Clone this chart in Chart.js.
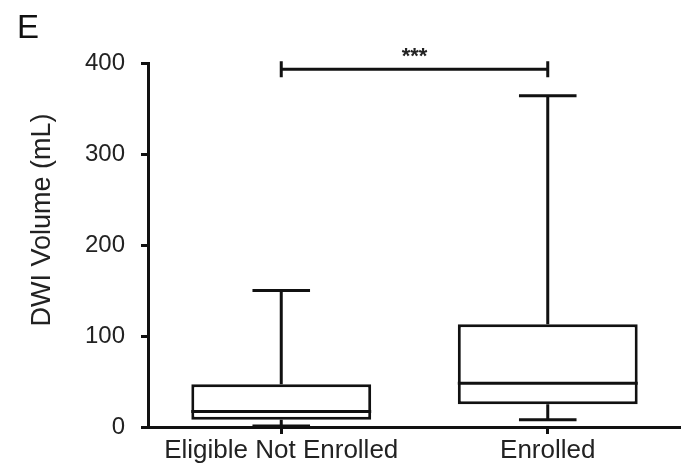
<!DOCTYPE html>
<html>
<head>
<meta charset="utf-8">
<script src="https://cdn.jsdelivr.net/npm/chart.js@4.4.1/dist/chart.umd.min.js"></script>
<style>
  html, body { margin: 0; padding: 0; background: #fff; }
  #box-chart { display: block; }
</style>
</head>
<body>
<canvas id="box-chart" width="681" height="466"></canvas>
<script>
const boxChart = document.getElementById("box-chart");

// groups on the x axis
const groupLabels = ["Eligible Not Enrolled", "Enrolled"];

// box plot values, DWI volume in mL
const whiskerLow = [1, 8];
const quartile1 = [8, 25];
const medians = [17, 48];
const quartile3 = [47, 113];
const whiskerHigh = [150, 364];

// y axis ticks
const yTicks = [0, 100, 200, 300, 400];

// significance bracket between the two groups
const sigPair = [0, 1];
const sigLevel = 393;
const sigLabel = "***";

const panelLetter = "E";
const yTitle = "DWI Volume (mL)";

const fontFamily = "'Liberation Sans', Arial, Helvetica, sans-serif";
const ink = "#111";
const lineW = 3;

// draws medians, whiskers, the bracket and the extra texts
const boxPlotExtras = {
    id: "boxPlotExtras",
    afterDatasetsDraw(chart) {
        const ctx = chart.ctx;
        const x = chart.scales.x;
        const y = chart.scales.y;
        const meta = chart.getDatasetMeta(0);

        ctx.save();
        ctx.strokeStyle = ink;
        ctx.lineWidth = lineW;
        meta.data.forEach((bar, i) => {
            const half = bar.width / 2;
            const cap = bar.width * 0.16;
            const yMed = y.getPixelForValue(medians[i]);
            const yQ1 = y.getPixelForValue(quartile1[i]);
            const yQ3 = y.getPixelForValue(quartile3[i]);
            const yLo = y.getPixelForValue(whiskerLow[i]);
            const yHi = y.getPixelForValue(whiskerHigh[i]);
            ctx.beginPath();
            // median
            ctx.moveTo(bar.x - half, yMed);
            ctx.lineTo(bar.x + half, yMed);
            // upper whisker + cap
            ctx.moveTo(bar.x, yQ3);
            ctx.lineTo(bar.x, yHi);
            ctx.moveTo(bar.x - cap, yHi);
            ctx.lineTo(bar.x + cap, yHi);
            // lower whisker + cap
            ctx.moveTo(bar.x, yQ1);
            ctx.lineTo(bar.x, yLo);
            ctx.moveTo(bar.x - cap, yLo);
            ctx.lineTo(bar.x + cap, yLo);
            ctx.stroke();
        });

        // significance bracket
        const xl = x.getPixelForValue(sigPair[0]);
        const xr = x.getPixelForValue(sigPair[1]);
        const yb = y.getPixelForValue(sigLevel);
        ctx.beginPath();
        ctx.moveTo(xl, yb);
        ctx.lineTo(xr, yb);
        ctx.moveTo(xl, yb - 8);
        ctx.lineTo(xl, yb + 8);
        ctx.moveTo(xr, yb - 8);
        ctx.lineTo(xr, yb + 8);
        ctx.stroke();

        ctx.fillStyle = "#222";
        ctx.font = "bold 22px " + fontFamily;
        ctx.textAlign = "center";
        ctx.textBaseline = "alphabetic";
        ctx.fillText(sigLabel, (xl + xr) / 2, yb - 6);

        // panel letter
        ctx.fillStyle = ink;
        ctx.font = "33px " + fontFamily;
        ctx.textAlign = "left";
        ctx.fillText(panelLetter, 17, 38);

        // y axis title
        ctx.fillStyle = "#222";
        ctx.font = "27px " + fontFamily;
        ctx.translate(43, 220);
        ctx.rotate(-Math.PI / 2);
        ctx.textAlign = "center";
        ctx.textBaseline = "middle";
        ctx.fillText(yTitle, 0, 0);
        ctx.restore();
    }
};

const myBoxChart = new Chart(boxChart, {
    type: "bar",
    data: {
        labels: groupLabels,
        datasets: [{
            data: quartile1.map((q, i) => [q, quartile3[i]]), // box = Q1..Q3
            backgroundColor: "#ffffff",
            borderColor: ink,
            borderWidth: lineW,
            borderSkipped: false,
            barPercentage: 0.675,
            categoryPercentage: 1.0
        }]
    },
    options: {
        responsive: false,
        animation: false,
        layout: {
            padding: { top: 63, right: 0, bottom: 0, left: 0 }
        },
        plugins: {
            legend: { display: false },
            tooltip: { enabled: false }
        },
        scales: {
            x: {
                grid: {
                    drawOnChartArea: false,
                    offset: false,
                    tickLength: 7,
                    color: ink,
                    lineWidth: lineW
                },
                border: { color: ink, width: lineW },
                ticks: {
                    color: "#222",
                    font: { size: 26, family: fontFamily },
                    padding: 1,
                    maxRotation: 0,
                    autoSkip: false
                },
                afterFit(scale) { scale.height = 39; }
            },
            y: {
                min: 0,
                max: 400,
                afterBuildTicks(scale) {
                    scale.ticks = yTicks.map(v => ({ value: v }));
                },
                grid: {
                    drawOnChartArea: false,
                    tickLength: 7,
                    color: ink,
                    lineWidth: lineW
                },
                border: { color: ink, width: lineW },
                ticks: {
                    color: "#222",
                    font: { size: 24, family: fontFamily },
                    padding: 16
                },
                afterFit(scale) { scale.width = 148; }
            }
        }
    },
    plugins: [boxPlotExtras]
});
</script>
</body>
</html>
